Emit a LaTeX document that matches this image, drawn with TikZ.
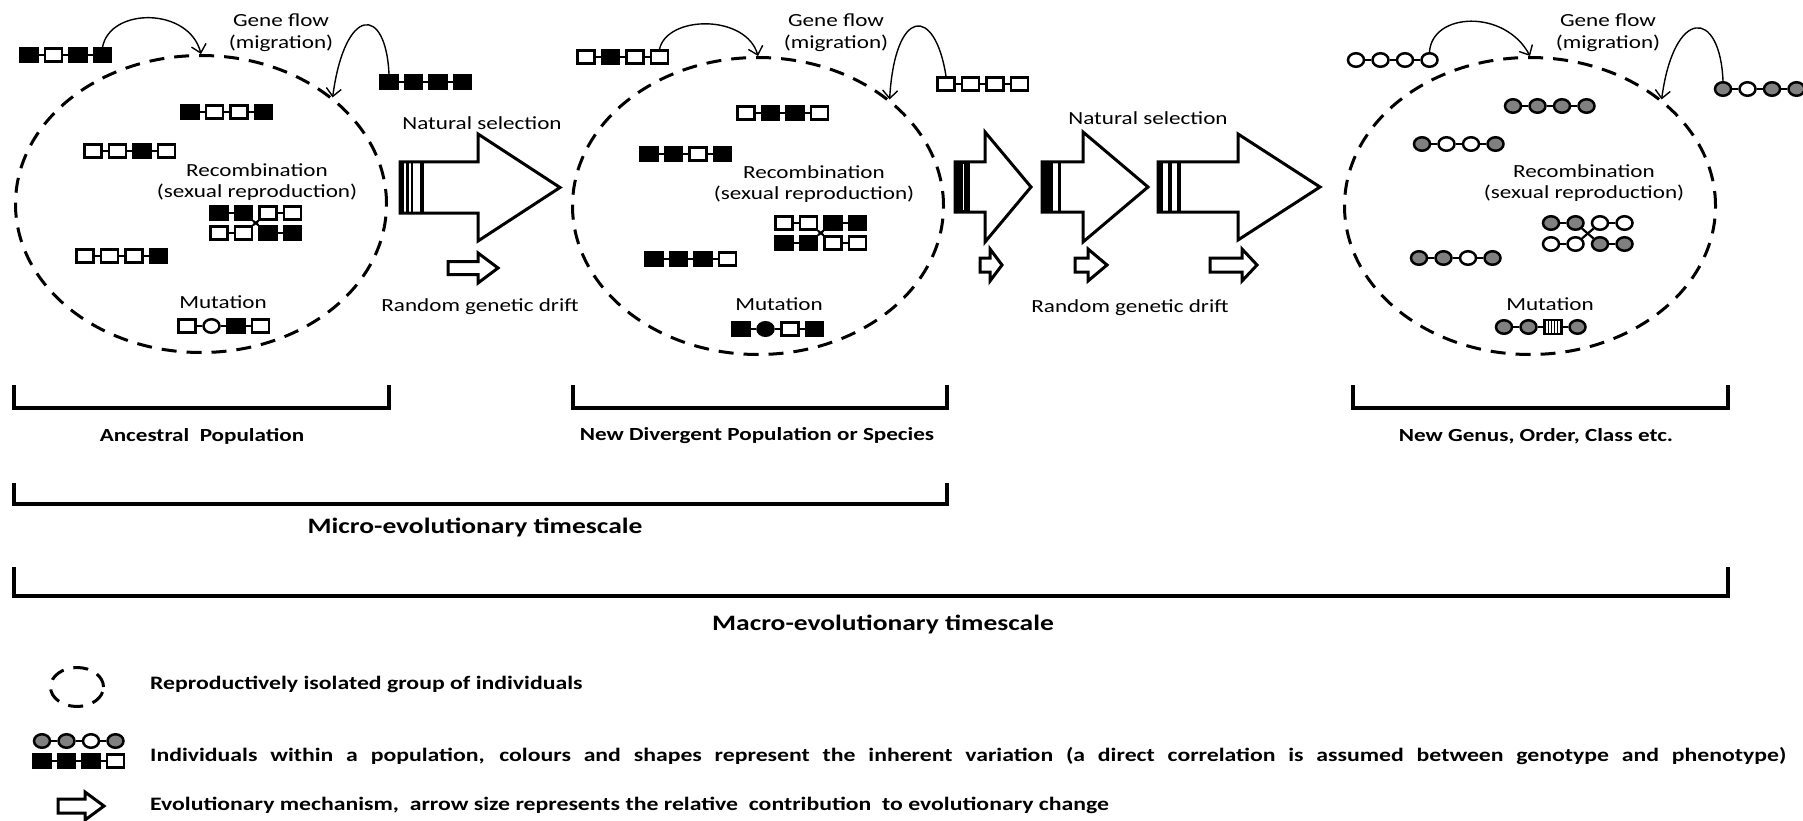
\documentclass[tikz,border=0pt]{standalone}
\usepackage{fontspec}
\setmainfont{Carlito}[FakeStretch=1.25]
\usepackage{tikz}
\usetikzlibrary{arrows.meta,shapes.geometric,patterns.meta}
\definecolor{allele}{HTML}{808080}

% a row of alleles, one node each, linked to the previous one
\newcommand{\genes}[3]{%
  \foreach \kind [count=\i] in {#3} {
    \node[\kind, xshift={(\i-1)*24.5pt}] (#1-\i) at (#2) {};
    \ifnum\i>1
      \pgfmathtruncatemacro{\j}{\i-1}
      \draw[link] (#1-\j) -- (#1-\i);
    \fi
  }}

% block arrow: tail x, head base x, tip x, mid y, shaft half, head half
\newcommand{\mecharrow}[6]{%
  \draw[mech] (#1,#4-#5) -- (#2,#4-#5) -- (#2,#4-#6) -- (#3,#4)
    -- (#2,#4+#6) -- (#2,#4+#5) -- (#1,#4+#5) -- cycle;}

\begin{document}
\begin{tikzpicture}[x=1pt, y=-1pt,
  gene/.style={draw, line width=2.5pt, inner sep=0pt},
  sqB/.style={gene, rectangle, fill=black, minimum width=17pt, minimum height=13pt},
  sqW/.style={gene, rectangle, fill=white, minimum width=17pt, minimum height=13pt},
  sqS/.style={gene, rectangle, line width=1.4pt, pattern={Lines[angle=90,distance=3pt,line width=1pt]},
    minimum width=18pt, minimum height=14pt},
  ciG/.style={gene, ellipse, fill=allele, minimum width=16pt, minimum height=13.5pt},
  ciW/.style={gene, ellipse, fill=white, minimum width=16pt, minimum height=13.5pt},
  ciK/.style={gene, ellipse, fill=black, minimum width=16pt, minimum height=13.5pt},
  link/.style={line width=2.2pt},
  pop/.style={ellipse, draw, line width=3pt, dash pattern=on 15pt off 10pt,
    minimum width=371pt, minimum height=297pt},
  flow/.style={line width=1.4pt, -{Straight Barb[length=8pt, width=15pt]}},
  mech/.style={draw, line width=3pt, fill=white, line join=miter},
  bracket/.style={line width=3.5pt},
  lbl/.style={inner sep=0pt, font=\fontsize{18.5}{20}\selectfont},
  blbl/.style={inner sep=0pt, font=\bfseries\fontsize{18.5}{20}\selectfont},
  tlbl/.style={inner sep=0pt, font=\bfseries\fontsize{22}{24}\selectfont},
  key/.style={inner sep=0pt, anchor=west, font=\bfseries\fontsize{19}{21}\selectfont}]

  \useasboundingbox (0,0) rectangle (1803,821);
  \fill[white] (0,0) rectangle (1803,821);

  % populations
  \node[pop] (pop1) at (201,204) {};
  \node[pop] (pop2) at (758,206) {};
  \node[pop] (pop3) at (1530,206) {};

  % ancestral population
  \genes{p1a}{29,55}{sqB,sqW,sqB,sqB}
  \genes{p1b}{389,82}{sqB,sqB,sqB,sqB}
  \genes{p1c}{190,112}{sqB,sqW,sqW,sqB}
  \genes{p1d}{93,151}{sqW,sqW,sqB,sqW}
  \genes{p1e}{219,213}{sqB,sqB}
  \genes{p1f}{268,213}{sqW,sqW}
  \genes{p1g}{219,233}{sqW,sqW}
  \genes{p1h}{268,233}{sqB,sqB}
  \draw[link] (p1e-2) -- (p1h-1);
  \draw[link] (p1g-2) -- (p1f-1);
  \genes{p1i}{85,256}{sqW,sqW,sqW,sqB}
  \genes{p1j}{187,326}{sqW,ciW,sqB,sqW}

  % divergent population
  \genes{p2a}{586,57}{sqW,sqB,sqW,sqW}
  \genes{p2b}{946,84}{sqW,sqW,sqW,sqW}
  \genes{p2c}{746,113}{sqW,sqB,sqB,sqW}
  \genes{p2d}{649,154}{sqB,sqB,sqW,sqB}
  \genes{p2e}{784,223}{sqW,sqW}
  \genes{p2f}{833,223}{sqB,sqB}
  \genes{p2g}{784,243}{sqB,sqB}
  \genes{p2h}{833,243}{sqW,sqW}
  \draw[link] (p2e-2) -- (p2h-1);
  \draw[link] (p2g-2) -- (p2f-1);
  \genes{p2i}{654,259}{sqB,sqB,sqB,sqW}
  \genes{p2j}{741,329}{sqB,ciK,sqW,sqB}

  % new genus
  \genes{p3a}{1356,60}{ciW,ciW,ciW,ciW}
  \genes{p3b}{1723,89}{ciG,ciW,ciG,ciG}
  \genes{p3c}{1513,106}{ciG,ciG,ciG,ciG}
  \genes{p3d}{1422,144}{ciG,ciW,ciW,ciG}
  \genes{p3e}{1551,223}{ciG,ciG}
  \genes{p3f}{1600,223}{ciW,ciW}
  \genes{p3g}{1551,244}{ciW,ciW}
  \genes{p3h}{1600,244}{ciG,ciG}
  \draw[link] (p3e-2) -- (p3h-1);
  \draw[link] (p3g-2) -- (p3f-1);
  \genes{p3i}{1419,258}{ciG,ciG,ciW,ciG}
  \genes{p3j}{1504,327}{ciG,ciG,sqS,ciG}

  % gene flow
  \draw[flow] (p1a-4.north) .. controls (110,7) and (189,7) .. (pop1.north);
  \draw[flow] (p1b-1.north) .. controls (386,5) and (345,5) .. (pop1.39);
  \draw[flow] (p2a-4.north) .. controls (667,15) and (746,14) .. (pop2.north);
  \draw[flow] (p2b-1.north) .. controls (935,5) and (895,7) .. (pop2.39);
  \draw[flow] (p3a-4.north) .. controls (1432,12) and (1505,9) .. (pop3.north);
  \draw[flow] (p3b-1.north) .. controls (1720,8) and (1674,7) .. (pop3.39);

  % labels in the populations
  \foreach \n/\x/\y in {1/281/20, 2/836/20, 3/1608/20} {
    \node[lbl] (gf\n) at (\x,\y) {Gene flow};
    \node[lbl] (mg\n) at (\x,\y+23) {(migration)};
  }
  \foreach \n/\x/\y in {1/257/170, 2/814/172, 3/1584/171} {
    \node[lbl] (rc\n) at (\x,\y) {Recombination};
    \node[lbl] (sx\n) at (\x,\y+22) {(sexual reproduction)};
  }
  \node[lbl] (mu1) at (223,302) {Mutation};
  \node[lbl] (mu2) at (779,304) {Mutation};
  \node[lbl] (mu3) at (1550,304) {Mutation};

  % natural selection and drift
  \node[lbl] (ns1) at (482,123) {Natural selection};
  \node[lbl] (ns2) at (1148,118) {Natural selection};
  \node[lbl] (rd1) at (480,307) {Random genetic drift};
  \node[lbl] (rd2) at (1130,308) {Random genetic drift};

  \mecharrow{400}{478}{560}{187.5}{25.5}{53.5}
  \foreach \x/\w in {402/4, 407.5/3, 412/2, 421.5/4}
    \draw[line width=\w pt] (\x,162) -- (\x,213);
  \mecharrow{955}{985}{1031}{187}{25}{55}
  \fill (955,162) rectangle (970,212);
  \draw[white, line width=1pt] (963,164) -- (963,210);
  \mecharrow{1042}{1083}{1148}{187}{25}{55}
  \fill (1042,162) rectangle (1053,212);
  \draw[line width=3pt] (1059,162) -- (1059,212);
  \mecharrow{1158}{1238}{1320}{187}{25}{53}
  \foreach \x/\w in {1160.5/5, 1170/3.5, 1179/3.5}
    \draw[line width=\w pt] (\x,162) -- (\x,212);

  \mecharrow{448}{478}{498}{268}{6.5}{15}
  \mecharrow{980}{990}{1002}{265}{7}{16}
  \mecharrow{1075}{1088}{1107}{265}{7}{16}
  \mecharrow{1210}{1242}{1257}{265}{7}{16}

  % timescales
  \draw[bracket] (14,385) -- (14,408) -- (389,408) -- (389,385);
  \draw[bracket] (573,385) -- (573,408) -- (947,408) -- (947,385);
  \draw[bracket] (1353,385) -- (1353,408) -- (1728,408) -- (1728,385);
  \draw[bracket] (14,483) -- (14,504) -- (947,504) -- (947,483);
  \draw[bracket] (14,567) -- (14,596) -- (1728,596) -- (1728,567);
  \node[blbl] (anc) at (202,436) {Ancestral~ Population};
  \node[blbl] (div) at (757,436) {New Divergent Population or Species};
  \node[blbl] (gen) at (1536,436) {New Genus, Order, Class etc.};
  \node[tlbl] (micro) at (475,527) {Micro-evolutionary timescale};
  \node[tlbl] (macro) at (883,624) {Macro-evolutionary timescale};

  % legend
  \node[pop, minimum width=53pt, minimum height=39pt] (keypop) at (77,687) {};
  \genes{keyc}{42,741}{ciG,ciG,ciW,ciG}
  \genes{keys}{42,761}{sqB,sqB,sqB,sqW}
  \mecharrow{58}{85}{104}{806}{7}{14}
  \node[key] (k1) at (150,684) {Reproductively isolated group of individuals};
  \node[key] (k2) at (150,756) {\makebox[1636pt][s]{Individuals within a population, colours and shapes represent the inherent variation (a direct correlation is assumed between genotype and phenotype)}};
  \node[key] (k3) at (150,805) {Evolutionary mechanism,~ arrow size represents the relative~ contribution~ to evolutionary change};
\end{tikzpicture}
\end{document}
